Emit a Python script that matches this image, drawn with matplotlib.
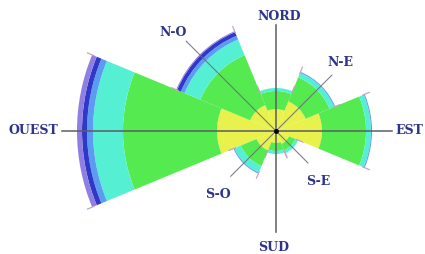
import numpy as np
import matplotlib
matplotlib.use("Agg")
import matplotlib.pyplot as plt

# Directions (angle in degrees, counter-clockwise from East)
directions = ["NORD", "N-E", "EST", "S-E", "SUD", "S-O", "OUEST", "N-O"]
angles_deg = [90, 45, 0, -45, -90, -135, 180, 135]

# Stacked frequency classes (radial increments) per direction
yellow     = [22, 32, 46, 14, 12, 21, 59, 28]
green      = [18, 26, 44, 7, 8, 17, 94, 54]
cyan       = [3, 5, 5, 3, 3, 7, 30, 17]
lightblue  = [0, 1, 1, 0, 0, 1, 6, 4]
blue       = [0, 0, 0, 0, 0, 0, 5, 4]
violet     = [0, 0, 0, 0, 0, 0, 5, 1]

series = [yellow, green, cyan, lightblue, blue, violet]
colors = ["#e9f24c", "#55ea50", "#55f0d4", "#5b9cf2", "#3038c8", "#8f7fe2"]

W, H = 425, 255
cx, cy = 276, 123   # centre in pixels from bottom-left
R = 250

fig = plt.figure(figsize=(W / 100, H / 100), dpi=100)
fig.patch.set_facecolor("white")
pos = [(cx - R) / W, (cy - R) / H, 2 * R / W, 2 * R / H]

ax = fig.add_axes(pos, projection="polar")
ax.set_ylim(0, R)
ax.axis("off")

theta = np.deg2rad(angles_deg)
width = np.deg2rad(45)
bottom = np.zeros(len(theta))
for vals, col in zip(series, colors):
    vals = np.array(vals, dtype=float)
    ax.bar(theta, vals, width=width, bottom=bottom, color=col,
           edgecolor="none", align="center", zorder=2)
    bottom = bottom + vals

# small radial ticks at sector edges
for t, rout in zip(theta, bottom):
    for e in (t - width / 2, t + width / 2):
        ax.plot([e, e], [rout - 2, rout + 5], color="#c7a3c9", lw=0.9, zorder=3)

# overlay cartesian axes for axis lines and labels
ov = fig.add_axes(pos)
ov.set_xlim(-R, R)
ov.set_ylim(-R, R)
ov.set_aspect("equal")
ov.axis("off")
ov.patch.set_alpha(0)

line_col = "#5c5c66"
ov.plot([-214, 116], [0, 0], color=line_col, lw=1.1, zorder=4)
ov.plot([0, 0], [-101, 106], color=line_col, lw=1.1, zorder=4)
diag = {45: 79, -45: 45, -135: 64, 135: 127}
for a, L in diag.items():
    ar = np.deg2rad(a)
    ov.plot([0, L * np.cos(ar)], [0, L * np.sin(ar)], color="#6a6a7a", lw=0.8,
            alpha=0.85, zorder=4)
ov.plot([0], [0], "o", color="black", ms=2.5, zorder=5)

label_pos = {"NORD": (3, 115), "N-E": (64, 70), "EST": (133, 1), "S-E": (42, -50),
             "SUD": (-2, -116), "S-O": (-58, -63), "OUEST": (-243, 1), "N-O": (-103, 100)}
for name in directions:
    x, y = label_pos[name]
    ov.text(x, y, name, ha="center", va="center", fontsize=9,
            fontweight="bold", family="DejaVu Serif", color="#2e3487", zorder=6)

fig.savefig("out.png", dpi=100, facecolor="white")
